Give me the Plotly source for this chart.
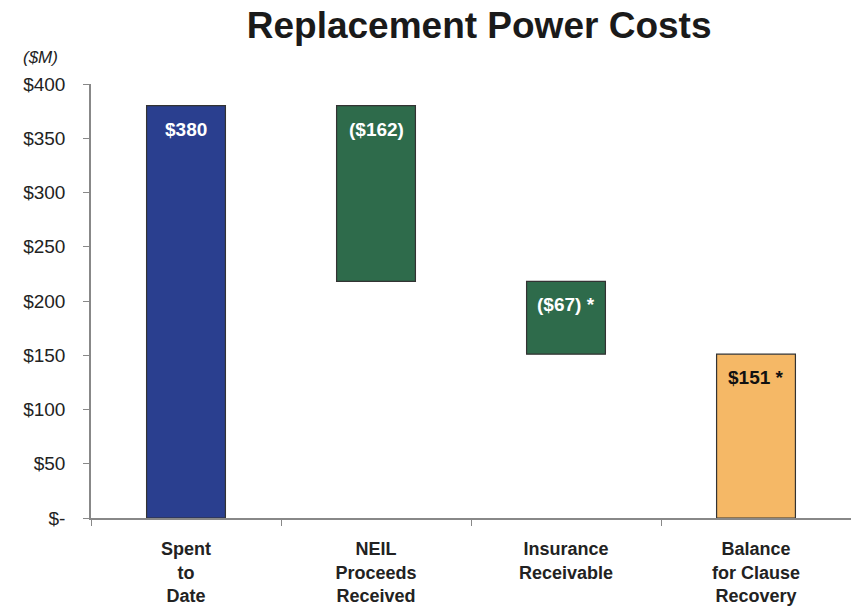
import plotly.graph_objects as go

categories = ["Spent<br>to<br>Date", "NEIL<br>Proceeds<br>Received",
              "Insurance<br>Receivable", "Balance<br>for Clause<br>Recovery"]
bar_bottom = [0, 218, 151, 0]
bar_top = [380, 380, 218, 151]
labels = ["$380", "($162)", "($67) *", "$151 *"]
label_colors = ["white", "white", "white", "#111111"]
bar_colors = ["#2A3F8F", "#2E6B4B", "#2E6B4B", "#F5B866"]
y_ticks = [0, 50, 100, 150, 200, 250, 300, 350, 400]
y_ticktext = ["$-", "$50", "$100", "$150", "$200", "$250", "$300", "$350", "$400"]

FONT = "Liberation Sans, Arial"
x = list(range(len(categories)))

fig = go.Figure()
fig.add_trace(go.Bar(
    x=x,
    y=[t - b for t, b in zip(bar_top, bar_bottom)],
    base=bar_bottom,
    width=0.415,
    marker={"color": bar_colors, "line": {"color": "#333333", "width": 1.2}},
    hoverinfo="skip",
))

# value labels near the top of each bar
for xi, top, txt, col in zip(x, bar_top, labels, label_colors):
    fig.add_annotation(
        x=xi, y=top, text=f"<b>{txt}</b>", showarrow=False,
        yanchor="top", yshift=-11,
        font={"family": FONT, "size": 19, "color": col},
    )

# ($M) unit label above the axis
fig.add_annotation(
    x=-0.092, y=1.06, xref="paper", yref="paper", text="<i>($M)</i>",
    showarrow=False, xanchor="left", yanchor="middle",
    font={"family": FONT, "size": 17, "color": "#222"},
)

fig.update_layout(
    width=851, height=611,
    margin={"l": 91, "r": 0, "t": 84, "b": 93},
    paper_bgcolor="white", plot_bgcolor="white",
    showlegend=False,
    title={
        "text": "<b>Replacement Power Costs</b>",
        "x": 0.563, "xanchor": "center", "y": 0.959, "yanchor": "middle",
        "font": {"family": FONT, "size": 37, "color": "#1a1a1a"},
    },
    font={"family": FONT, "color": "#111"},
)
fig.update_xaxes(
    range=[-0.5, 3.5], automargin=False,
    tickvals=x, ticktext=[f"<b>{c}</b>" for c in categories],
    ticks="", ticklabelstandoff=14,
    showgrid=False, zeroline=False,
    showline=True, linecolor="#888", linewidth=1.5,
    tickfont={"family": FONT, "size": 18, "color": "#222"},
    minor={"tickvals": [-0.5, 0.5, 1.5, 2.5], "ticks": "outside",
           "ticklen": 6, "tickcolor": "#888", "showgrid": False},
)
fig.update_yaxes(
    range=[0, 400], automargin=False,
    tickvals=y_ticks, ticktext=y_ticktext,
    ticks="outside", ticklen=6, tickcolor="#888", ticklabelstandoff=14,
    showgrid=False, zeroline=False,
    showline=True, linecolor="#888", linewidth=1.5,
    tickfont={"family": FONT, "size": 19, "color": "#222"},
)

# drop the browser's default body margin so the figure sits at the page corner
fig.write_html("out.html", config={"displayModeBar": False},
               post_script="document.body.style.margin='0';")
